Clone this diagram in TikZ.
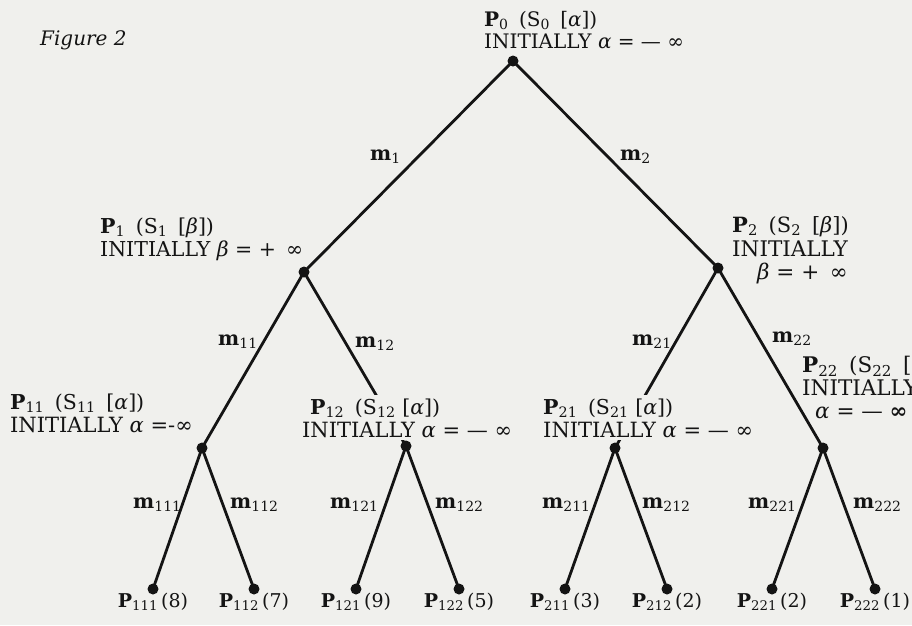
\documentclass[tikz,border=0pt]{standalone}
\usepackage{fontspec}
\setmainfont{DejaVu Serif}
\definecolor{paper}{RGB}{240,240,237}
\definecolor{ink}{RGB}{20,20,20}
\newcommand\myP[1]{\textbf{P}\textsubscript{#1}}
\newcommand\myM[1]{\textbf{m}\textsubscript{#1}}
\newcommand\al{{\itshape α}}
\newcommand\be{{\itshape β}}
\newcommand\gp{\hspace{0.2em}}
\pgfdeclarelayer{paperlayer}
\pgfdeclarelayer{edgelayer}
\pgfdeclarelayer{knocklayer}
\pgfsetlayers{paperlayer,edgelayer,knocklayer,main}
\begin{document}
\begin{tikzpicture}[x=1pt,y=-1pt,
  dot/.style={circle,fill=ink,inner sep=0pt,minimum size=11pt},
  edge/.style={line width=2.8pt,draw=ink},
  lbl/.style={anchor=base west,inner sep=0pt,text=ink},
  knock/.style={fill=paper},
  mlab/.style={anchor=base west,inner sep=0pt,text=ink,font=\fontsize{20}{22}\selectfont},
  leaf/.style={anchor=base,inner sep=0pt,text=ink,font=\fontsize{19}{22}\selectfont},
]
\useasboundingbox (0,0) rectangle (912,625);
\begin{pgfonlayer}{paperlayer}
\fill[paper] (0,0) rectangle (912,625);
\end{pgfonlayer}
\clip (0,0) rectangle (912,625);

% title
\node[lbl,font=\fontsize{20}{22}\selectfont\itshape] (title) at (40,45) {Figure 2};

% node labels
\node[lbl,font=\fontsize{20}{22}\selectfont] (l0a) at (484,26) {\myP{0}\gp{} (S\textsubscript{0}\gp{} [\al])};
\node[lbl,font=\fontsize{20}{22}\selectfont] (l0b) at (484,48) {INITIALLY \al\ = — ∞};

\node[lbl,font=\fontsize{20.5}{22}\selectfont] (l1a) at (100,233) {\myP{1}\gp{} (S\textsubscript{1}\gp{} [\be])};
\node[lbl,font=\fontsize{20.5}{22}\selectfont] (l1b) at (100,256) {INITIALLY \be\ = + \,∞};

\node[lbl,font=\fontsize{21}{22}\selectfont] (l2a) at (732,232) {\myP{2}\gp{} (S\textsubscript{2}\gp{} [\be])};
\node[lbl,font=\fontsize{21.5}{22}\selectfont] (l2b) at (732,256) {INITIALLY};
\node[lbl,font=\fontsize{21.5}{22}\selectfont] (l2c) at (757,279) {\be\ = + \,∞};

\node[lbl,font=\fontsize{20.5}{22}\selectfont] (l11a) at (10,409) {\myP{11}\gp{} (S\textsubscript{11}\gp{} [\al])};
\node[lbl,font=\fontsize{21}{22}\selectfont] (l11b) at (10,432) {INITIALLY \al\ =-∞};

\node[lbl,font=\fontsize{20.5}{22}\selectfont] (l12a) at (310,414) {\myP{12}\gp{} (S\textsubscript{12} [\al])};
\node[lbl,font=\fontsize{21}{22}\selectfont] (l12b) at (302,437) {INITIALLY \al\ = — ∞};

\node[lbl,font=\fontsize{20.5}{22}\selectfont] (l21a) at (543,414) {\myP{21}\gp{} (S\textsubscript{21} [\al])};
\node[lbl,font=\fontsize{21}{22}\selectfont] (l21b) at (543,437) {INITIALLY \al\ = — ∞};

\node[lbl,font=\fontsize{21.5}{22}\selectfont] (l22a) at (802,372) {\myP{22}\gp{} (S\textsubscript{22}\gp{} [\al])};
\node[lbl,font=\fontsize{21.5}{22}\selectfont] (l22b) at (802,395) {INITIALLY};
\node[lbl,font=\fontsize{21.5}{22}\selectfont] (l22c) at (815,418) {\al\ = — \textbf{∞}};

% paper behind the labels that the lines run under
\begin{pgfonlayer}{knocklayer}
\fill[knock] ([shift={(-1,-3)}]l12a.north west) rectangle ([shift={(1,2)}]l12b.south east);
\fill[knock] ([shift={(-1,-3)}]l21a.north west) rectangle ([shift={(1,2)}]l21b.south east);
\end{pgfonlayer}

% tree nodes
\node[dot] (p0) at (513,61) {};
\node[dot] (p1) at (304,272) {};
\node[dot] (p2) at (718,268) {};
\node[dot] (p11) at (202,448) {};
\node[dot] (p12) at (406,446) {};
\node[dot] (p21) at (615,448) {};
\node[dot] (p22) at (823,448) {};
\node[dot] (p111) at (153,589) {};
\node[dot] (p112) at (254,589) {};
\node[dot] (p121) at (356,589) {};
\node[dot] (p122) at (459,589) {};
\node[dot] (p211) at (565,589) {};
\node[dot] (p212) at (667,589) {};
\node[dot] (p221) at (772,589) {};
\node[dot] (p222) at (875,589) {};

% edges
\begin{pgfonlayer}{edgelayer}
\draw[edge] (p0.center) -- (p1.center);
\draw[edge] (p0.center) -- (p2.center);
\draw[edge] (p1.center) -- (p11.center);
\draw[edge] (p1.center) -- (p12.center);
\draw[edge] (p2.center) -- (p21.center);
\draw[edge] (p2.center) -- (p22.center);
\draw[edge] (p11.center) -- (p111.center);
\draw[edge] (p11.center) -- (p112.center);
\draw[edge] (p12.center) -- (p121.center);
\draw[edge] (p12.center) -- (p122.center);
\draw[edge] (p21.center) -- (p211.center);
\draw[edge] (p21.center) -- (p212.center);
\draw[edge] (p22.center) -- (p221.center);
\draw[edge] (p22.center) -- (p222.center);
\end{pgfonlayer}

% move labels
\node[mlab] (m1) at (370,160) {\myM{1}};
\node[mlab] (m2) at (620,160) {\myM{2}};
\node[mlab] (m11) at (218,345) {\myM{11}};
\node[mlab] (m12) at (355,347) {\myM{12}};
\node[mlab] (m21) at (632,345) {\myM{21}};
\node[mlab] (m22) at (772,342) {\myM{22}};
\node[mlab] (m111) at (133,508) {\myM{111}};
\node[mlab] (m112) at (230,508) {\myM{112}};
\node[mlab] (m121) at (330,508) {\myM{121}};
\node[mlab] (m122) at (435,508) {\myM{122}};
\node[mlab] (m211) at (542,508) {\myM{211}};
\node[mlab] (m212) at (642,508) {\myM{212}};
\node[mlab] (m221) at (748,508) {\myM{221}};
\node[mlab] (m222) at (853,508) {\myM{222}};

% leaf labels
\node[leaf] (t111) at (p111.center |- 0,607) {\myP{111}\,(8)};
\node[leaf] (t112) at (p112.center |- 0,607) {\myP{112}\,(7)};
\node[leaf] (t121) at (p121.center |- 0,607) {\myP{121}\,(9)};
\node[leaf] (t122) at (p122.center |- 0,607) {\myP{122}\,(5)};
\node[leaf] (t211) at (p211.center |- 0,607) {\myP{211}\,(3)};
\node[leaf] (t212) at (p212.center |- 0,607) {\myP{212}\,(2)};
\node[leaf] (t221) at (p221.center |- 0,607) {\myP{221}\,(2)};
\node[leaf] (t222) at (p222.center |- 0,607) {\myP{222}\,(1)};
\end{tikzpicture}
\end{document}
